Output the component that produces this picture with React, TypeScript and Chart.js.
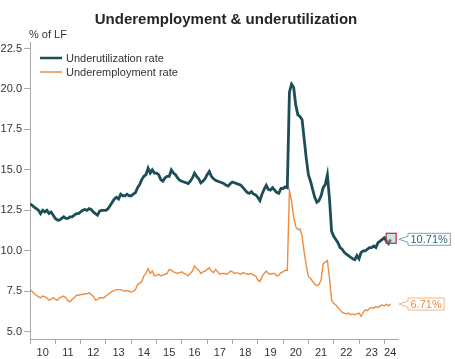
import React, { useEffect, useRef } from "react";
import { Chart, registerables } from "chart.js";

Chart.register(...registerables);

const titleText = "Underemployment & underutilization";
const unitText = "% of LF";
const seriesNames = ["Underutilization rate", "Underemployment rate"];
const startYear = 2010;

// Monthly values, Jan 2010 – Apr 2024
const underutilization: number[] = [
  12.9, 12.8, 12.7, 12.6, 12.5, 12.3, 12.5, 12.4, 12.5, 12.3, 12.4, 12.2,
  12.0, 11.9, 11.9, 12.0, 12.1, 12.0, 12.0, 12.1, 12.1, 12.2, 12.3, 12.3,
  12.4, 12.5, 12.55, 12.5, 12.6, 12.55, 12.4, 12.3, 12.2, 12.45, 12.5, 12.5,
  12.5, 12.6, 12.8, 13.0, 13.2, 13.3, 13.2, 13.5, 13.4, 13.4, 13.5, 13.4,
  13.4, 13.5, 13.6, 13.9, 14.1, 14.4, 14.6, 14.7, 15.1, 14.8, 15.0, 14.8,
  14.8, 14.7, 14.4, 14.3, 14.5, 14.6, 14.6, 15.0, 14.8, 14.7, 14.5, 14.35,
  14.3, 14.25, 14.2, 14.15, 14.3, 14.5, 14.8, 14.6, 14.45, 14.2, 14.3, 14.45,
  14.7, 14.9, 14.6, 14.45, 14.35, 14.3, 14.25, 14.2, 14.15, 14.05, 14.0, 14.15,
  14.25, 14.2, 14.15, 14.1, 14.05, 13.9, 13.75, 13.6, 13.55, 13.65, 13.5, 13.45,
  13.3, 13.1, 13.5, 13.8, 14.05, 13.8, 13.75, 13.9, 13.75, 13.6, 13.55, 13.85,
  13.85, 13.95, 13.9, 19.8, 20.3, 20.1, 19.0, 18.4, 18.3, 18.1, 16.9, 15.7,
  14.7, 14.3, 13.8, 13.3, 13.0, 13.1, 13.4, 13.9, 14.1, 14.7, 13.2, 11.2,
  10.9, 10.7, 10.5, 10.2, 10.1, 9.9, 9.8, 9.7, 9.6, 9.5, 9.45, 9.7,
  9.5, 9.9, 10.0, 10.0, 10.1, 10.2, 10.2, 10.3, 10.2, 10.5, 10.6, 10.7,
  10.8, 10.6, 10.45, 10.71,
];

const underemployment: number[] = [
  7.6, 7.5, 7.35, 7.25, 7.15, 7.1, 7.2, 7.15, 7.1, 6.95, 7.0, 7.1,
  7.0, 6.95, 7.1, 7.15, 7.2, 7.1, 6.9, 6.85, 7.0, 7.1, 7.25, 7.25,
  7.3, 7.3, 7.35, 7.35, 7.4, 7.3, 7.2, 6.95, 7.0, 7.1, 7.1, 7.1,
  7.2, 7.3, 7.4, 7.5, 7.55, 7.6, 7.6, 7.6, 7.55, 7.5, 7.55, 7.5,
  7.45, 7.5, 7.6, 7.9, 8.0, 8.1, 8.45, 8.6, 8.9, 8.6, 8.75, 8.45,
  8.5, 8.55, 8.45, 8.5, 8.55, 8.6, 8.85, 8.8, 8.7, 8.65, 8.6, 8.65,
  8.7, 8.6, 8.55, 8.45, 8.6, 8.75, 9.05, 8.9, 8.8, 8.6, 8.7, 8.75,
  8.85, 8.95, 8.75, 8.65, 8.85, 8.7, 8.55, 8.6, 8.6, 8.55, 8.6, 8.75,
  8.7, 8.6, 8.65, 8.6, 8.55, 8.65, 8.6, 8.55, 8.55, 8.6, 8.5, 8.45,
  8.2, 8.1, 8.4, 8.6, 8.75, 8.6, 8.55, 8.6, 8.6, 8.45, 8.5, 8.65,
  8.7, 8.8, 8.8, 13.7, 13.1, 12.1, 11.5, 11.3, 11.35, 10.9, 9.9, 9.1,
  8.4, 8.3, 8.1, 7.95, 7.85, 7.9, 8.2, 9.2, 9.3, 9.4, 8.3, 6.95,
  6.75, 6.65, 6.5, 6.35, 6.2, 6.15, 6.1, 6.15, 6.05, 6.1, 6.05, 6.1,
  6.15, 5.95, 6.2, 6.35, 6.3, 6.45, 6.5, 6.45, 6.55, 6.5, 6.6, 6.65,
  6.6, 6.7, 6.6, 6.71,
];

const yTicks = [5, 7.5, 10, 12.5, 15, 17.5, 20, 22.5];
const yearTicks = [2010, 2011, 2012, 2013, 2014, 2015, 2016, 2017, 2018, 2019, 2020, 2021, 2022, 2023, 2024];
const yearLabelPos = [2010.5, 2011.5, 2012.5, 2013.5, 2014.5, 2015.5, 2016.5, 2017.5, 2018.5, 2019.5, 2020.5, 2021.5, 2022.5, 2023.5, 2024.23];
const yearLabels = ["10", "11", "12", "13", "14", "15", "16", "17", "18", "19", "20", "21", "22", "23", "24"];

const TEAL = "#1c4e57";
const ORANGE = "#f08c3e";
const GRAY = "#a9a9a9";
const TEXT = "#333333";
const FONT = '"Liberation Sans", Arial, sans-serif';

const toPoints = (vals: number[]) => vals.map((v, i) => ({ x: startYear + i / 12, y: v }));

function drawCallout(ctx: CanvasRenderingContext2D, tipX: number, cy: number, text: string, border: string, color: string) {
  ctx.font = `11px ${FONT}`;
  const w = ctx.measureText(text).width + 5;
  const left = tipX + 9;
  const h = 12;
  const top = cy - h / 2;
  ctx.beginPath();
  ctx.moveTo(left, top);
  ctx.lineTo(left + w, top);
  ctx.lineTo(left + w, top + h);
  ctx.lineTo(left, top + h);
  ctx.lineTo(left, cy + 3);
  ctx.lineTo(tipX, cy);
  ctx.lineTo(left, cy - 3);
  ctx.closePath();
  ctx.fillStyle = "#ffffff";
  ctx.fill();
  ctx.strokeStyle = border;
  ctx.lineWidth = 1;
  ctx.stroke();
  ctx.fillStyle = color;
  ctx.textAlign = "left";
  ctx.textBaseline = "middle";
  ctx.fillText(text, left + 2.5, cy + 0.5);
}

const overlayPlugin = {
  id: "overlay",
  afterDraw(chart: any) {
    const ctx: CanvasRenderingContext2D = chart.ctx;
    const xs = chart.scales.x;
    const ys = chart.scales.y;
    ctx.save();
    // title
    ctx.font = `bold 15px ${FONT}`;
    ctx.fillStyle = "#262626";
    ctx.textAlign = "center";
    ctx.textBaseline = "middle";
    ctx.fillText(titleText, 226, 20);
    // unit
    ctx.font = `11px ${FONT}`;
    ctx.fillStyle = TEXT;
    ctx.textAlign = "left";
    ctx.fillText(unitText, 29, 35);
    // legend
    const legend = [
      { name: seriesNames[0], color: TEAL, width: 2.5, y: 58 },
      { name: seriesNames[1], color: ORANGE, width: 1.5, y: 72 },
    ];
    legend.forEach((l) => {
      ctx.beginPath();
      ctx.moveTo(40, l.y);
      ctx.lineTo(62, l.y);
      ctx.strokeStyle = l.color;
      ctx.lineWidth = l.width;
      ctx.stroke();
      ctx.fillStyle = TEXT;
      ctx.fillText(l.name, 66, l.y + 0.5);
    });
    // last-point marker
    const n1 = underutilization.length - 1;
    const lastU = underutilization[n1];
    const px = xs.getPixelForValue(startYear + n1 / 12);
    const py = ys.getPixelForValue(lastU);
    ctx.fillStyle = "rgba(160,185,205,0.45)";
    ctx.fillRect(px - 4.5, py - 6, 10, 10);
    ctx.strokeStyle = "#b3323c";
    ctx.lineWidth = 1.2;
    ctx.strokeRect(px - 4.5, py - 6, 10, 10);
    // callouts
    const tipX = chart.chartArea.right + 1;
    drawCallout(ctx, tipX, py, lastU.toFixed(2) + "%", "#7fa3a8", "#2a6670");
    const n2 = underemployment.length - 1;
    const lastE = underemployment[n2];
    drawCallout(ctx, tipX, ys.getPixelForValue(lastE), lastE.toFixed(2) + "%", "#f5b787", ORANGE);
    ctx.restore();
  },
};

export default function App() {
  const ref = useRef<HTMLCanvasElement>(null);
  useEffect(() => {
    if (!ref.current) return;
    const chart = new Chart(ref.current, {
      type: "line",
      data: {
        datasets: [
          {
            label: seriesNames[0],
            data: toPoints(underutilization),
            borderColor: TEAL,
            borderWidth: 2.8,
            pointRadius: 0,
            tension: 0,
          },
          {
            label: seriesNames[1],
            data: toPoints(underemployment),
            borderColor: ORANGE,
            borderWidth: 1.4,
            pointRadius: 0,
            tension: 0,
          },
        ],
      },
      options: {
        animation: false,
        responsive: false,
        parsing: true,
        layout: { padding: { top: 42, right: 57, left: 0, bottom: 0 } },
        plugins: { legend: { display: false }, title: { display: false }, tooltip: { enabled: false } },
        scales: {
          x: {
            type: "linear",
            min: 2010,
            max: 2024.54,
            afterBuildTicks: (s: any) => {
              s.ticks = [...yearTicks, ...yearLabelPos].sort((a, b) => a - b).map((v) => ({ value: v }));
            },
            ticks: {
              autoSkip: false,
              maxRotation: 0,
              padding: 2,
              color: TEXT,
              font: { size: 11, family: FONT },
              callback: (v: any) => {
                const i = yearLabelPos.indexOf(Number(v));
                return i >= 0 ? yearLabels[i] : "";
              },
            },
            grid: {
              drawOnChartArea: false,
              tickLength: 5,
              tickColor: (c: any) => (c.tick && yearTicks.includes(c.tick.value) ? GRAY : "rgba(0,0,0,0)"),
            },
            border: { color: GRAY },
            afterFit: (s: any) => {
              s.height = 20;
            },
          },
          y: {
            min: 4.55,
            max: 22.9,
            afterBuildTicks: (s: any) => {
              s.ticks = yTicks.map((v) => ({ value: v }));
            },
            ticks: {
              padding: 2,
              color: TEXT,
              font: { size: 11, family: FONT },
              callback: (v: any) => Number(v).toFixed(1),
            },
            grid: { drawOnChartArea: false, tickLength: 6, tickColor: GRAY },
            border: { color: GRAY },
            afterFit: (s: any) => {
              s.width = 30;
            },
          },
        },
      },
      plugins: [overlayPlugin],
    });
    return () => chart.destroy();
  }, []);
  return (
    <div style={{ position: "fixed", left: 0, top: 0, width: 455, height: 359, background: "#fff" }}>
      <canvas ref={ref} width={455} height={359} style={{ display: "block" }} />
    </div>
  );
}
